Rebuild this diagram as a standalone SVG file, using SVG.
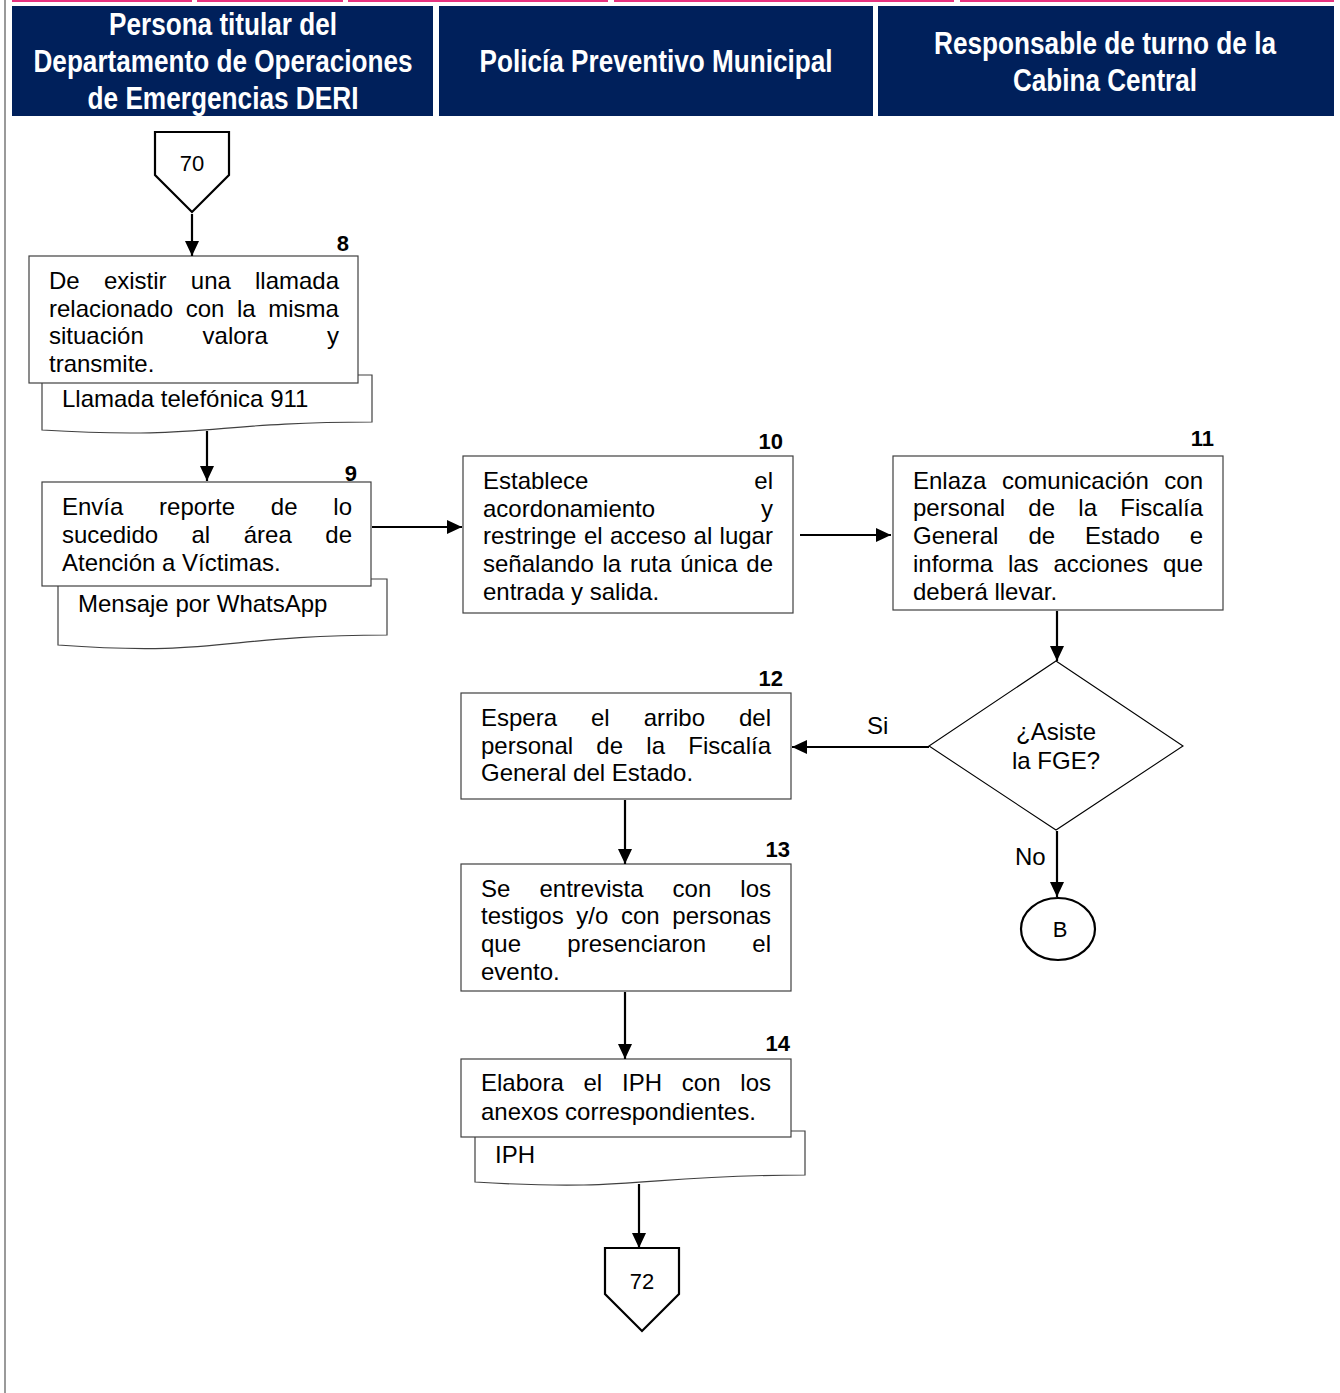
<svg xmlns="http://www.w3.org/2000/svg" width="1340" height="1393" viewBox="0 0 1340 1393">
  <style>
    .hdr { fill: #00205b; }
    .hdrtxt { fill: #ffffff; font-family: "Liberation Sans Narrow", "Arial Narrow", "Liberation Sans", sans-serif; font-weight: bold; font-size: 32px; text-anchor: middle; }
    .box { fill: #ffffff; stroke: #404040; stroke-width: 1.2; }
    .doc { fill: #ffffff; stroke: #404040; stroke-width: 1.2; }
    .ref { fill: #ffffff; stroke: #000000; stroke-width: 2.2; }
    .dec { fill: #ffffff; stroke: #000000; stroke-width: 1.1; }
    .t { font-family: "Liberation Sans", Arial, sans-serif; font-size: 24px; fill: #000000; }
    .e { text-anchor: end; }
    .m { text-anchor: middle; }
    .num { font-family: "Liberation Sans", Arial, sans-serif; font-size: 22px; font-weight: bold; fill: #000000; text-anchor: end; }
    .small { font-family: "Liberation Sans", Arial, sans-serif; font-size: 22px; fill: #000000; text-anchor: middle; }
    .conn line { stroke: #000000; stroke-width: 2.2; marker-end: url(#arrow); }
  </style>
  <defs>
    <marker id="arrow" markerUnits="userSpaceOnUse" markerWidth="15" markerHeight="14" refX="15" refY="7" orient="auto">
      <path d="M0,0 L15,7 L0,14 z" fill="#000000"/>
    </marker>
  </defs>

  <rect x="0" y="0" width="1340" height="1393" fill="#ffffff"/>

  <!-- page frame: left rule and top accent -->
  <rect x="4" y="0" width="2" height="1393" fill="#9a9a9a"/>
  <g fill="#e6337f">
    <rect x="12" y="0" width="180" height="2"/>
    <rect x="197" y="0" width="146" height="2"/>
    <rect x="348" y="0" width="260" height="2"/>
    <rect x="614" y="0" width="340" height="2"/>
    <rect x="960" y="0" width="374" height="2"/>
  </g>

  <!-- swimlane headers -->
  <g id="lane-deri">
    <rect class="hdr" x="12" y="6" width="421" height="110"/>
    <text class="hdrtxt" x="223" y="35" textLength="228" lengthAdjust="spacingAndGlyphs">Persona titular del</text>
    <text class="hdrtxt" x="223" y="72" textLength="379" lengthAdjust="spacingAndGlyphs">Departamento de Operaciones</text>
    <text class="hdrtxt" x="223" y="109" textLength="271" lengthAdjust="spacingAndGlyphs">de Emergencias DERI</text>
  </g>
  <g id="lane-policia">
    <rect class="hdr" x="439" y="6" width="434" height="110"/>
    <text class="hdrtxt" x="656" y="72" textLength="353" lengthAdjust="spacingAndGlyphs">Policía Preventivo Municipal</text>
  </g>
  <g id="lane-cabina">
    <rect class="hdr" x="878" y="6" width="456" height="110"/>
    <text class="hdrtxt" x="1105" y="54" textLength="342" lengthAdjust="spacingAndGlyphs">Responsable de turno de la</text>
    <text class="hdrtxt" x="1105" y="91" textLength="184" lengthAdjust="spacingAndGlyphs">Cabina Central</text>
  </g>

  <!-- off-page reference in -->
  <g id="ref-70">
    <path class="ref" d="M155,132 H229 V175 L192,212 L155,175 Z"/>
    <text class="small" x="192" y="171">70</text>
  </g>

  <!-- step 8 -->
  <g id="doc-llamada">
    <path class="doc" d="M42,375 H372 V422 C207,422 207,440 42,430 Z"/>
    <text class="t" x="62" y="407">Llamada telefónica 911</text>
  </g>
  <g id="step-8">
    <rect class="box" x="29" y="256" width="329" height="127"/>
    <text class="num" x="349" y="251">8</text>
    <text class="t" y="289"><tspan x="49">De</tspan><tspan x="103.9">existir</tspan><tspan x="190.8">una</tspan><tspan x="255">llamada</tspan></text>
    <text class="t" y="317"><tspan x="49">relacionado</tspan><tspan x="185.7">con</tspan><tspan x="237">la</tspan><tspan x="268.3">misma</tspan></text>
    <text class="t" y="344"><tspan x="49">situación</tspan><tspan x="202.6">valora</tspan><tspan x="327">y</tspan></text>
    <text class="t" x="49" y="372">transmite.</text>
  </g>

  <!-- step 9 -->
  <g id="doc-whatsapp">
    <path class="doc" d="M58,579 H387 V635 C222,635 222,657 58,645 Z"/>
    <text class="t" x="78" y="612">Mensaje por WhatsApp</text>
  </g>
  <g id="step-9">
    <rect class="box" x="42" y="482" width="329" height="104"/>
    <text class="num" x="357" y="481">9</text>
    <text class="t" y="515"><tspan x="62">Envía</tspan><tspan x="159.1">reporte</tspan><tspan x="270.8">de</tspan><tspan x="333.3">lo</tspan></text>
    <text class="t" y="543"><tspan x="62">sucedido</tspan><tspan x="191.5">al</tspan><tspan x="243.7">área</tspan><tspan x="325.3">de</tspan></text>
    <text class="t" x="62" y="571">Atención a Víctimas.</text>
  </g>

  <!-- step 10 -->
  <g id="step-10">
    <rect class="box" x="463" y="456" width="330" height="157"/>
    <text class="num" x="783" y="449">10</text>
    <text class="t" y="489"><tspan x="483">Establece</tspan><tspan x="754.3">el</tspan></text>
    <text class="t" y="517"><tspan x="483">acordonamiento</tspan><tspan x="761">y</tspan></text>
    <text class="t" y="544"><tspan x="483">restringe</tspan><tspan x="583.9">el</tspan><tspan x="610.1">acceso</tspan><tspan x="693.6">al</tspan><tspan x="719.6">lugar</tspan></text>
    <text class="t" y="572"><tspan x="483">señalando</tspan><tspan x="602.5">la</tspan><tspan x="630">ruta</tspan><tspan x="680.2">única</tspan><tspan x="746.3">de</tspan></text>
    <text class="t" x="483" y="600">entrada y salida.</text>
  </g>

  <!-- step 11 -->
  <g id="step-11">
    <rect class="box" x="893" y="456" width="330" height="154"/>
    <text class="num" x="1214" y="446">11</text>
    <text class="t" y="489"><tspan x="913">Enlaza</tspan><tspan x="1002">comunicación</tspan><tspan x="1164.3">con</tspan></text>
    <text class="t" y="516"><tspan x="913">personal</tspan><tspan x="1028.3">de</tspan><tspan x="1078.3">la</tspan><tspan x="1120.3">Fiscalía</tspan></text>
    <text class="t" y="544"><tspan x="913">General</tspan><tspan x="1028.4">de</tspan><tspan x="1085.1">Estado</tspan><tspan x="1189.7">e</tspan></text>
    <text class="t" y="572"><tspan x="913">informa</tspan><tspan x="1007.9">las</tspan><tspan x="1053.5">acciones</tspan><tspan x="1163">que</tspan></text>
    <text class="t" x="913" y="600">deberá llevar.</text>
  </g>

  <!-- decision -->
  <g id="decision-fge">
    <path class="dec" d="M1056,661 L1183,746 L1056,830 L929,746 Z"/>
    <text class="t m" x="1056" y="740">¿Asiste</text>
    <text class="t m" x="1056" y="769">la FGE?</text>
  </g>

  <!-- connector B -->
  <g id="connector-b">
    <ellipse class="ref" cx="1058" cy="929" rx="37" ry="31"/>
    <text class="small" x="1060" y="937">B</text>
  </g>

  <!-- step 12 -->
  <g id="step-12">
    <rect class="box" x="461" y="693" width="330" height="106"/>
    <text class="num" x="783" y="686">12</text>
    <text class="t" y="726"><tspan x="481">Espera</tspan><tspan x="591">el</tspan><tspan x="643.7">arribo</tspan><tspan x="739">del</tspan></text>
    <text class="t" y="754"><tspan x="481">personal</tspan><tspan x="596.3">de</tspan><tspan x="646.3">la</tspan><tspan x="688.3">Fiscalía</tspan></text>
    <text class="t" x="481" y="781">General del Estado.</text>
  </g>

  <!-- step 13 -->
  <g id="step-13">
    <rect class="box" x="461" y="864" width="330" height="127"/>
    <text class="num" x="790" y="857">13</text>
    <text class="t" y="897"><tspan x="481">Se</tspan><tspan x="539.5">entrevista</tspan><tspan x="672.6">con</tspan><tspan x="740.3">los</tspan></text>
    <text class="t" y="924"><tspan x="481">testigos</tspan><tspan x="576.3">y/o</tspan><tspan x="620.9">con</tspan><tspan x="672.3">personas</tspan></text>
    <text class="t" y="952"><tspan x="481">que</tspan><tspan x="567.3">presenciaron</tspan><tspan x="752.3">el</tspan></text>
    <text class="t" x="481" y="980">evento.</text>
  </g>

  <!-- step 14 -->
  <g id="doc-iph">
    <path class="doc" d="M475,1131 H805 V1175 C640,1175 640,1192 475,1182 Z"/>
    <text class="t" x="495" y="1163">IPH</text>
  </g>
  <g id="step-14">
    <rect class="box" x="461" y="1059" width="330" height="78"/>
    <text class="num" x="790" y="1051">14</text>
    <text class="t" y="1091"><tspan x="481">Elabora</tspan><tspan x="583.5">el</tspan><tspan x="622">IPH</tspan><tspan x="681.8">con</tspan><tspan x="740.3">los</tspan></text>
    <text class="t" x="481" y="1120">anexos correspondientes.</text>
  </g>

  <!-- off-page reference out -->
  <g id="ref-72">
    <path class="ref" d="M605,1248 H679 V1294 L642,1331 L605,1294 Z"/>
    <text class="small" x="642" y="1289">72</text>
  </g>

  <!-- connectors -->
  <g id="connectors" class="conn">
    <line x1="192" y1="214" x2="192" y2="256"/>
    <line x1="207" y1="431" x2="207" y2="481"/>
    <line x1="372" y1="527" x2="462" y2="527"/>
    <line x1="800" y1="535" x2="891" y2="535"/>
    <line x1="1057" y1="611" x2="1057" y2="661"/>
    <line x1="929" y1="747" x2="792" y2="747"/>
    <line x1="1057" y1="831" x2="1057" y2="897"/>
    <line x1="625" y1="800" x2="625" y2="864"/>
    <line x1="625" y1="992" x2="625" y2="1059"/>
    <line x1="639" y1="1184" x2="639" y2="1248"/>
    <text class="t" x="867" y="734">Si</text>
    <text class="t" x="1015" y="865">No</text>
  </g>
</svg>
